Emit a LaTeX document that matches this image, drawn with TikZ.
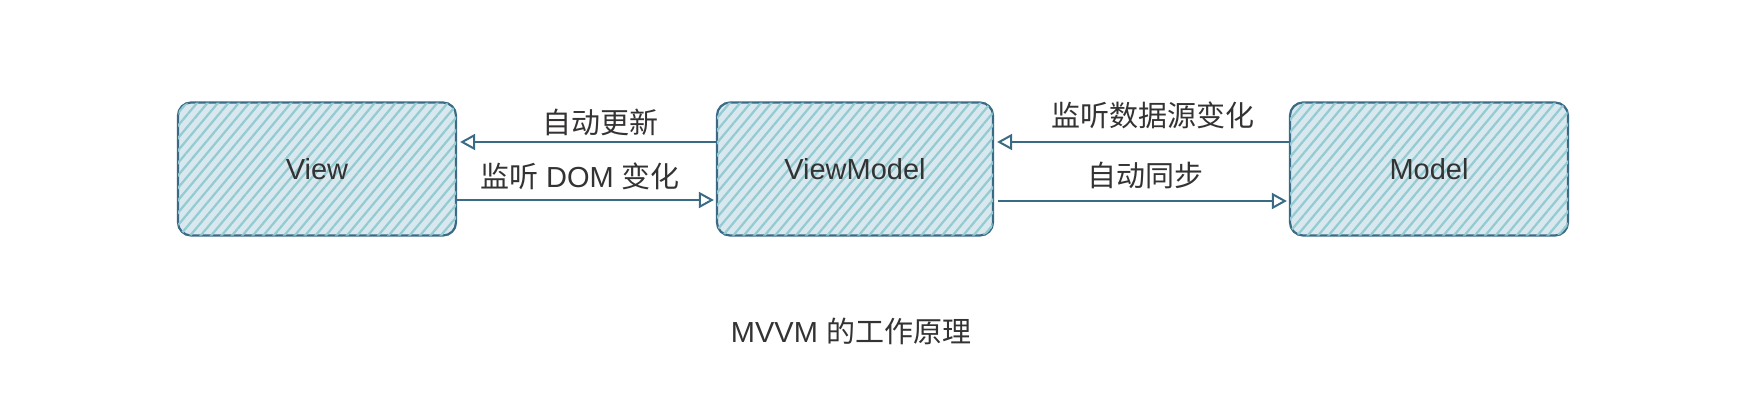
\documentclass[tikz,border=0pt]{standalone}
\usepackage{fontspec}
\setmainfont{Liberation Sans}
\newfontfamily\cjk{Noto Sans CJK SC}
\usetikzlibrary{arrows.meta,patterns.meta}
\definecolor{edge}{HTML}{3A6B86}
\definecolor{boxfill}{HTML}{D8E8EE}
\definecolor{hatch}{HTML}{92CBD1}
\definecolor{txt}{HTML}{333333}
\tikzset{
  box/.style={draw=edge, line width=2.2pt, rounded corners=13pt, minimum width=278pt, minimum height=133pt,
    fill=boxfill, postaction={pattern={Lines[angle=50,distance=8pt,line width=2.2pt]}, pattern color=hatch},
    font=\fontsize{29}{34}\selectfont, text=txt},
  arr/.style={draw=edge, line width=2.4pt, -{Triangle[open,length=15pt,width=16pt,line width=2pt]}},
  lbl/.style={font=\fontsize{29}{34}\selectfont, text=txt, inner sep=0pt}
}
\begin{document}
\begin{tikzpicture}[x=1pt,y=-1pt]
\useasboundingbox (0,0) rectangle (1746,400);
\node[box] (view) at (317,169) {View};
\node[box, minimum width=276pt] (vm) at (855,169) {ViewModel};
\node[box] (model) at (1429,169) {Model};
\draw[arr] ([yshift=27pt]vm.west) -- ([yshift=27pt,xshift=3pt]view.east);
\draw[arr] ([yshift=-31pt]view.east) -- ([yshift=-31pt,xshift=-2pt]vm.west);
\draw[arr] ([yshift=27pt]model.west) -- ([yshift=27pt,xshift=3pt]vm.east);
\draw[arr] ([yshift=-32pt,xshift=4pt]vm.east) -- ([yshift=-32pt,xshift=-2pt]model.west);
\node[lbl] (l1) at (600,122) {\cjk 自动更新};
\node[lbl] (l2) at (580,176) {{\cjk 监听} DOM {\cjk 变化}};
\node[lbl] (l3) at (1153,115) {\cjk 监听数据源变化};
\node[lbl] (l4) at (1145,175) {\cjk 自动同步};
\node[lbl] (cap) at (851,331) {MVVM {\cjk 的工作原理}};
\end{tikzpicture}
\end{document}
